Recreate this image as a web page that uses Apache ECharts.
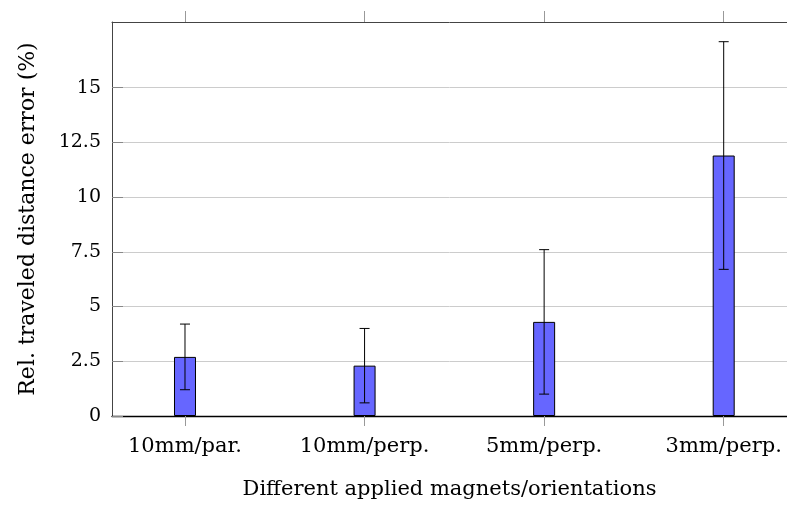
<!DOCTYPE html>
<html>
<head>
<meta charset="utf-8">
<script src="https://cdn.jsdelivr.net/npm/echarts@6/dist/echarts.min.js"></script>
<style>html,body{margin:0;padding:0;background:#fff}#c{width:787px;height:505px}</style>
</head>
<body>
<div id="c"></div>
<script>
const categories = ['10mm/par.', '10mm/perp.', '5mm/perp.', '3mm/perp.'];
const meanError = [2.7, 2.3, 4.3, 11.9];
const errLow = [1.2, 0.6, 1.0, 6.7];
const errHigh = [4.2, 4.0, 7.6, 17.1];
const yTicks = [0, 2.5, 5, 7.5, 10, 12.5, 15];
const xPositions = [0, 1, 2, 3];

const FONT = 'DejaVu Serif';
const chart = echarts.init(document.getElementById('c'), null, {renderer: 'canvas'});

const barData = categories.map((c, i) => [xPositions[i], meanError[i]]);
const errData = categories.map((c, i) => [xPositions[i], errLow[i], errHigh[i]]);
const X_MIN = -0.4065, X_MAX = 3.3525;

chart.setOption({
  animation: false,
  grid: {left: 112, top: 22, right: 0, bottom: 89, containLabel: false},
  xAxis: [{
    type: 'value', min: X_MIN, max: X_MAX, position: 'bottom',
    axisLine: {show: true, onZero: false, lineStyle: {color: '#000', width: 1.3}},
    axisTick: {show: true, inside: false, length: 10, customValues: xPositions, lineStyle: {color: '#999'}},
    axisLabel: {show: true, customValues: xPositions, margin: 20, fontFamily: FONT, fontSize: 21, color: '#000',
      formatter: v => categories[Math.round(v)]},
    splitLine: {show: false},
    name: 'Different applied magnets/orientations', nameLocation: 'middle', nameGap: 63,
    nameTextStyle: {fontFamily: FONT, fontSize: 21, color: '#000'}
  }, {
    type: 'value', min: X_MIN, max: X_MAX, position: 'top',
    axisLine: {show: true, onZero: false, lineStyle: {color: '#444', width: 1}},
    axisTick: {show: true, inside: false, length: 11, customValues: xPositions, lineStyle: {color: '#999'}},
    axisLabel: {show: false},
    splitLine: {show: false}
  }],
  yAxis: {
    type: 'value', min: 0, max: 18,
    axisLine: {show: true, onZero: false, lineStyle: {color: '#444', width: 1}},
    axisTick: {show: true, inside: true, length: 11, customValues: yTicks, lineStyle: {color: '#888'}},
    axisLabel: {customValues: yTicks, margin: 11, fontFamily: FONT, fontSize: 19, color: '#000'},
    splitLine: {show: true, lineStyle: {color: '#cccccc', width: 1}},
    name: 'Rel. traveled distance error (%)', nameLocation: 'middle', nameGap: 73, nameRotate: 90,
    nameTextStyle: {fontFamily: FONT, fontSize: 22, color: '#000'}
  },
  series: [{
    type: 'bar', xAxisIndex: 0, data: barData, barWidth: 22,
    itemStyle: {color: '#6666ff', borderColor: '#000', borderWidth: 1}
  }, {
    type: 'custom', xAxisIndex: 0, data: errData,
    renderItem: function (params, api) {
      const x = api.value(0);
      const lo = api.coord([x, api.value(1)]);
      const hi = api.coord([x, api.value(2)]);
      const w = 5;
      const st = {stroke: '#000', lineWidth: 1};
      return {type: 'group', children: [
        {type: 'line', shape: {x1: lo[0], y1: lo[1], x2: hi[0], y2: hi[1]}, style: st},
        {type: 'line', shape: {x1: lo[0] - w, y1: lo[1], x2: lo[0] + w, y2: lo[1]}, style: st},
        {type: 'line', shape: {x1: hi[0] - w, y1: hi[1], x2: hi[0] + w, y2: hi[1]}, style: st}
      ]};
    },
    z: 5
  }]
});
</script>
</body>
</html>
